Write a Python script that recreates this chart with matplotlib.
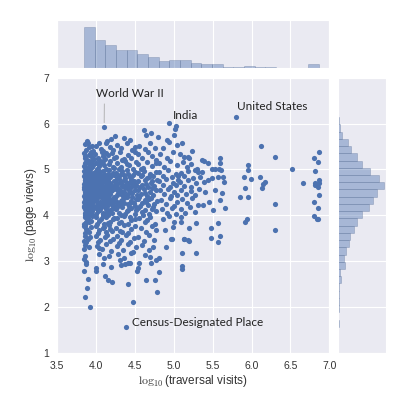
import matplotlib
matplotlib.use("Agg")
import matplotlib.pyplot as plt
import seaborn as sns
import numpy as np

# log10(traversal visits), log10(page views), by x band

# x 3.85-3.98
grp_a = [(3.89,5.62),
    (3.86,5.55),(3.92,5.48),(3.95,5.52),(3.88,5.43),(3.97,5.41),(3.90,5.58),
    (3.85,5.36),(3.91,5.31),(3.94,5.38),(3.87,5.24),(3.96,5.27),(3.89,5.21),(3.93,5.34),(3.86,5.29),(3.98,5.22),
    (3.88,5.17),(3.92,5.12),(3.85,5.08),(3.95,5.19),(3.90,5.03),(3.97,5.10),(3.87,5.14),(3.93,5.01),(3.86,5.05),(3.91,5.18),(3.96,5.06),
    (3.85,4.97),(3.89,4.92),(3.94,4.88),(3.87,4.84),(3.92,4.99),(3.96,4.81),(3.86,4.90),(3.90,4.85),(3.93,4.95),(3.98,4.93),
    (3.88,4.80),(3.91,4.87),(3.95,4.83),(3.85,4.86),(3.97,4.89),(3.89,4.96),(3.93,4.82),
    (3.86,4.78),(3.90,4.72),(3.94,4.76),(3.87,4.65),(3.92,4.61),(3.96,4.70),(3.85,4.68),(3.89,4.79),(3.93,4.63),(3.97,4.74),(3.88,4.71),
    (3.91,4.66),(3.95,4.62),(3.86,4.73),(3.90,4.60),(3.94,4.67),(3.98,4.64),(3.87,4.77),(3.92,4.69),(3.85,4.62),(3.96,4.75),(3.89,4.66),
    (3.85,4.58),(3.88,4.52),(3.92,4.55),(3.95,4.47),(3.87,4.43),(3.90,4.49),(3.94,4.59),(3.97,4.41),(3.86,4.46),(3.91,4.53),
    (3.93,4.44),(3.89,4.57),(3.96,4.50),(3.85,4.42),(3.88,4.60),(3.92,4.45),(3.98,4.54),(3.87,4.51),(3.90,4.40),(3.94,4.48),
    (3.86,4.38),(3.90,4.33),(3.93,4.36),(3.96,4.27),(3.88,4.22),(3.85,4.30),(3.92,4.25),(3.95,4.39),(3.87,4.34),
    (3.91,4.21),(3.94,4.29),(3.89,4.26),(3.97,4.32),(3.86,4.24),(3.92,4.37),(3.85,4.20),(3.90,4.28),(3.95,4.23),
    (3.85,4.18),(3.89,4.12),(3.93,4.15),(3.87,4.06),(3.91,4.02),(3.95,4.09),(3.86,4.14),(3.90,4.19),(3.94,4.04),(3.88,4.10),(3.92,4.07),(3.97,4.16),(3.86,4.01),
    (3.86,3.97),(3.89,3.91),(3.92,3.85),(3.85,3.82),(3.90,3.94),(3.94,3.88),(3.87,3.80),(3.96,3.98),(3.88,3.86),
    (3.85,3.77),(3.88,3.71),(3.91,3.64),(3.86,3.62),(3.94,3.75),(3.89,3.67),(3.87,3.79),
    (3.86,3.56),(3.90,3.49),(3.85,3.44),(3.93,3.53),(3.88,3.41),
    (3.87,3.36),(3.85,3.27),(3.91,3.31),(3.86,3.12),
    (3.85,3.04),(3.88,2.99),(3.88,2.94),(3.85,2.78),(3.90,2.62),(3.89,2.42),(3.87,2.21),(3.93,2.01)]

# x 3.98-4.25
grp_b = [(4.11,5.93),
    (4.20,5.67),(4.25,5.74),(4.15,5.62),
    (4.01,5.52),(4.07,5.45),(4.13,5.57),(4.18,5.49),(4.23,5.42),(4.04,5.58),(4.10,5.41),
    (3.99,5.33),(4.03,5.26),(4.08,5.38),(4.12,5.22),(4.16,5.31),(4.21,5.36),(4.05,5.21),(4.10,5.29),(4.24,5.24),(4.14,5.35),
    (4.00,5.15),(4.04,5.08),(4.09,5.19),(4.13,5.02),(4.17,5.12),(4.22,5.06),(4.02,5.01),(4.07,5.17),(4.11,5.10),(4.19,5.18),(4.24,5.04),(4.06,5.13),
    (3.99,4.94),(4.02,4.88),(4.05,4.97),(4.08,4.82),(4.11,4.91),(4.14,4.85),(4.17,4.99),(4.20,4.87),(4.23,4.93),(4.01,4.81),
    (4.04,4.92),(4.07,4.86),(4.10,4.96),(4.13,4.80),(4.16,4.90),(4.19,4.83),(4.03,4.98),(4.09,4.84),(4.24,4.89),
    (4.00,4.76),(4.03,4.69),(4.06,4.73),(4.09,4.62),(4.12,4.78),(4.15,4.66),(4.18,4.71),(4.21,4.64),(4.24,4.75),(4.01,4.61),(4.04,4.79),(4.07,4.67),
    (4.10,4.72),(4.13,4.63),(4.16,4.77),(4.19,4.68),(4.22,4.60),(3.99,4.70),(4.02,4.65),(4.05,4.74),(4.08,4.77),(4.11,4.60),(4.14,4.70),(4.25,4.66),
    (4.00,4.57),(4.03,4.51),(4.06,4.45),(4.09,4.58),(4.12,4.42),(4.15,4.53),(4.18,4.47),(4.21,4.56),(4.24,4.41),(4.01,4.48),(4.04,4.54),(4.07,4.59),
    (4.10,4.43),(4.13,4.50),(4.16,4.44),(4.20,4.52),(4.23,4.58),(3.99,4.46),(4.02,4.41),(4.05,4.55),(4.08,4.49),(4.11,4.53),(4.17,4.59),
    (3.99,4.35),(4.02,4.28),(4.05,4.22),(4.08,4.37),(4.11,4.31),(4.14,4.24),(4.17,4.38),(4.20,4.27),(4.23,4.33),(4.00,4.21),(4.03,4.39),(4.06,4.30),
    (4.09,4.25),(4.12,4.36),(4.15,4.20),(4.18,4.32),(4.21,4.23),(4.24,4.29),(4.01,4.33),(4.04,4.26),(4.10,4.22),(4.13,4.34),(4.16,4.27),
    (4.00,4.17),(4.03,4.09),(4.06,4.14),(4.09,4.03),(4.12,4.19),(4.15,4.08),(4.18,4.12),(4.21,4.05),(4.24,4.16),
    (4.01,4.02),(4.04,4.11),(4.07,4.18),(4.10,4.06),(4.13,4.13),(4.16,4.01),(4.19,4.09),(4.22,4.15),
    (4.00,3.96),(4.04,3.88),(4.07,3.93),(4.11,3.82),(4.14,3.97),(4.18,3.86),(4.22,3.91),(4.02,3.81),(4.09,3.99),(4.16,3.84),(4.24,3.95),
    (4.01,3.76),(4.05,3.68),(4.09,3.72),(4.13,3.63),(4.17,3.78),(4.21,3.66),(4.03,3.61),(4.11,3.74),(4.19,3.70),
    (4.00,3.55),(4.06,3.47),(4.12,3.52),(4.18,3.43),(4.03,3.41),(4.15,3.58),(4.23,3.49),
    (4.02,3.34),(4.08,3.26),(4.14,3.38),(4.20,3.22),(4.05,3.29),
    (4.04,3.16),(4.11,3.08),(4.17,3.12),
    (4.00,2.79),(4.01,2.85),(4.10,2.94),(4.12,2.67),(4.16,2.58),(4.20,2.87),(4.21,2.54)]

# x 4.25-4.53
grp_c = [(4.44,5.64),(4.36,5.68),
    (4.27,5.53),(4.33,5.46),(4.40,5.57),(4.47,5.42),(4.51,5.50),
    (4.26,5.28),(4.31,5.37),(4.37,5.23),(4.42,5.32),(4.46,5.26),(4.50,5.39),(4.34,5.21),
    (4.28,5.14),(4.32,5.05),(4.38,5.18),(4.43,5.09),(4.48,5.02),(4.52,5.16),(4.30,5.01),(4.40,5.11),
    (4.26,4.93),(4.30,4.86),(4.34,4.97),(4.38,4.82),(4.42,4.90),(4.46,4.84),(4.50,4.95),(4.28,4.81),(4.32,4.91),(4.36,4.88),(4.40,4.98),(4.44,4.83),(4.48,4.89),
    (4.25,4.75),(4.28,4.68),(4.31,4.72),(4.34,4.63),(4.37,4.77),(4.40,4.66),(4.43,4.71),(4.46,4.61),(4.49,4.74),(4.52,4.67),
    (4.27,4.62),(4.30,4.79),(4.33,4.70),(4.36,4.65),(4.39,4.73),(4.42,4.60),(4.45,4.76),(4.48,4.69),(4.51,4.64),
    (4.26,4.57),(4.29,4.49),(4.32,4.54),(4.35,4.43),(4.38,4.59),(4.41,4.47),(4.44,4.52),(4.47,4.41),(4.50,4.56),
    (4.53,4.45),(4.27,4.44),(4.30,4.58),(4.33,4.46),(4.36,4.51),(4.39,4.42),(4.43,4.55),(4.47,4.48),
    (4.25,4.37),(4.28,4.29),(4.31,4.23),(4.34,4.34),(4.37,4.27),(4.40,4.39),(4.43,4.21),(4.46,4.32),
    (4.49,4.26),(4.52,4.36),(4.27,4.22),(4.32,4.31),(4.36,4.38),(4.41,4.25),(4.45,4.30),(4.50,4.20),
    (4.26,4.13),(4.30,4.06),(4.34,4.18),(4.38,4.02),(4.42,4.11),(4.46,4.15),(4.50,4.04),(4.28,4.19),(4.33,4.01),(4.40,4.09),(4.44,4.17),(4.52,4.12),
    (4.27,3.94),(4.32,3.85),(4.37,3.98),(4.41,3.81),(4.46,3.89),(4.51,3.93),(4.30,3.83),(4.44,3.96),
    (4.26,3.73),(4.31,3.66),(4.36,3.78),(4.41,3.62),(4.46,3.70),(4.50,3.76),(4.34,3.64),
    (4.28,3.54),(4.33,3.46),(4.39,3.58),(4.44,3.42),(4.49,3.51),(4.30,3.40),
    (4.27,3.33),(4.35,3.25),(4.42,3.37),(4.48,3.21),(4.52,3.30),
    (4.29,3.15),(4.37,3.06),(4.45,3.18),(4.31,3.03),
    (4.33,2.92),(4.38,2.94),(4.42,2.96),(4.44,2.97),(4.39,1.57),(4.42,2.51),(4.48,2.11)]

# x 4.53-4.80
grp_d = [(4.62,5.86),(4.71,5.80),(4.65,5.75),(4.80,5.70),
    (4.56,5.52),(4.63,5.44),(4.70,5.57),(4.76,5.47),
    (4.54,5.34),(4.60,5.24),(4.67,5.38),(4.73,5.29),(4.78,5.21),
    (4.55,5.12),(4.61,5.04),(4.66,5.17),(4.72,5.08),(4.77,5.15),(4.58,5.01),
    (4.54,4.93),(4.58,4.85),(4.62,4.97),(4.66,4.81),(4.70,4.90),(4.74,4.86),(4.78,4.95),(4.60,4.89),(4.68,4.83),
    (4.55,4.74),(4.59,4.66),(4.63,4.78),(4.67,4.62),(4.71,4.71),(4.75,4.65),(4.79,4.77),(4.57,4.61),(4.65,4.69),(4.73,4.75),
    (4.54,4.55),(4.58,4.47),(4.62,4.58),(4.66,4.42),(4.70,4.51),(4.74,4.44),(4.78,4.56),(4.56,4.41),(4.64,4.49),(4.72,4.59),
    (4.55,4.36),(4.59,4.27),(4.63,4.33),(4.67,4.22),(4.71,4.38),(4.75,4.25),(4.79,4.31),(4.57,4.21),(4.65,4.29),(4.69,4.35),
    (4.54,4.16),(4.59,4.07),(4.64,4.12),(4.69,4.03),(4.74,4.18),(4.78,4.09),(4.61,4.01),(4.72,4.14),
    (4.56,3.94),(4.63,3.85),(4.70,3.97),(4.76,3.82),(4.66,3.90),
    (4.58,3.73),(4.65,3.64),(4.72,3.77),(4.78,3.68),
    (4.55,3.52),(4.62,3.44),(4.69,3.57),(4.75,3.47),
    (4.60,3.36),(4.68,3.24),(4.74,3.31),
    (4.64,3.14),(4.70,3.09),(4.78,3.03),
    (4.53,2.78),(4.55,2.86),(4.56,2.96),(4.65,2.58),(4.76,2.58),(4.79,2.33),(4.71,2.96)]

# x 4.80-5.07
grp_e = [(4.94,6.02),(5.02,5.89),(5.03,5.94),(5.00,5.75),(4.92,5.64),(4.94,5.60),
    (5.04,5.54),(4.86,5.46),(4.83,5.33),(4.91,5.25),(4.99,5.37),
    (4.82,5.13),(4.88,5.05),(4.96,5.18),(5.05,5.09),
    (4.81,4.94),(4.87,4.86),(4.93,4.98),(4.98,4.83),(5.03,4.91),(5.06,4.85),
    (4.82,4.74),(4.86,4.66),(4.90,4.79),(4.95,4.62),(4.99,4.71),(5.03,4.67),(5.06,4.76),
    (4.83,4.55),(4.88,4.47),(4.93,4.58),(4.97,4.42),(5.01,4.51),(5.05,4.44),
    (4.84,4.33),(4.90,4.25),(4.95,4.38),(5.00,4.21),(5.04,4.30),
    (4.85,4.14),(4.92,4.06),(4.98,4.17),(5.03,4.03),
    (4.87,3.92),(4.94,3.99),(5.00,3.86),(4.99,3.75),(4.89,3.67),
    (4.97,3.49),(4.98,3.48),(4.90,3.30),(4.82,3.07),(4.81,2.77)]

# x 5.07-5.35
grp_f = [(5.11,5.58),(5.24,5.41),
    (5.08,5.33),(5.14,5.28),(5.20,5.25),(5.19,5.28),
    (5.12,5.16),(5.17,5.06),(5.23,5.12),(5.30,5.02),
    (5.09,4.93),(5.14,4.86),(5.19,4.97),(5.25,4.82),(5.27,4.99),(5.32,4.95),
    (5.08,4.73),(5.13,4.65),(5.18,4.78),(5.23,4.62),(5.29,4.70),(5.34,4.84),
    (5.10,4.56),(5.16,4.47),(5.22,4.53),(5.28,4.44),(5.33,4.58),
    (5.11,4.35),(5.17,4.27),(5.24,4.38),(5.31,4.22),
    (5.09,4.13),(5.15,4.05),(5.21,4.18),(5.28,4.08),
    (5.09,3.96),(5.09,3.86),(5.29,3.83),(5.20,3.72),
    (5.13,3.49),(5.19,3.46),(5.14,3.48),(5.20,3.43),
    (5.11,3.19),(5.29,3.17),(5.11,2.90),(5.11,2.84)]

# x 5.35-5.63
grp_g = [(5.36,5.20),(5.39,5.19),(5.44,5.13),(5.49,5.02),(5.53,5.02),(5.59,5.15),(5.59,5.25),
    (5.58,5.02),(5.61,4.99),(5.57,4.84),(5.44,4.77),(5.49,4.81),(5.39,4.73),(5.41,4.51),
    (5.53,4.55),(5.62,4.48),(5.60,4.33),(5.46,4.30),(5.38,4.22),(5.50,4.12),(5.57,3.84),
    (5.48,3.73),(5.48,3.50),(5.60,3.55),(5.57,3.41),(5.36,4.95)]

# x > 5.63
grp_h = [(5.64,4.84),(5.65,4.73),(5.66,4.15),(5.80,6.14),(5.85,4.39),
    (5.95,5.09),(5.95,4.99),(5.91,4.84),(5.99,4.80),(5.92,4.60),(5.95,4.41),(5.94,3.93),(5.92,3.86),
    (6.12,5.51),(6.11,4.84),(6.17,4.73),(6.15,4.68),(6.14,4.59),
    (6.30,5.28),(6.30,4.24),(6.30,3.67),(6.52,5.00),(6.66,4.71),
    (6.86,5.38),(6.80,5.25),(6.85,5.17),(6.81,4.96),(6.86,4.77),(6.81,4.71),(6.86,4.70),
    (6.82,4.66),(6.85,4.62),(6.86,4.45),(6.80,4.30),(6.85,4.15),(6.80,3.99),(6.84,3.93),(6.85,3.91)]

# labelled articles: name, (x, y) of its point, text position
labels = ["World War II", "India", "United States", "Census-Designated Place"]
label_pts = [(4.11, 5.93), (4.94, 6.02), (5.80, 6.14), (4.39, 1.57)]
label_txt = [(4.00, 6.65), (4.99, 6.18), (5.82, 6.38), (4.47, 1.67)]

pts = np.array(grp_a + grp_b + grp_c + grp_d + grp_e + grp_f + grp_g + grp_h)
x = pts[:, 0]
y = pts[:, 1]

sns.set_style("darkgrid")
plt.rcParams['font.family'] = ['Liberation Sans', 'DejaVu Sans']
plt.rcParams['mathtext.fontset'] = 'cm'

blue = "#4c72b0"
fig = plt.figure(figsize=(4.16, 3.99), dpi=100)
ax = fig.add_axes([0.136, 0.1153, 0.656, 0.690])
ax_top = fig.add_axes([0.136, 0.8296, 0.656, 0.120], sharex=ax)
ax_right = fig.add_axes([0.8125, 0.1153, 0.1154, 0.690], sharey=ax)

ax.scatter(x, y, s=14, color=blue, linewidths=0, zorder=3)
ax.set_xlim(3.5, 7.0)
ax.set_ylim(1, 7)
ax.set_xticks(np.arange(3.5, 7.01, 0.5))
ax.set_yticks(np.arange(1, 8, 1))
ax.tick_params(labelsize=7.5, colors='#333333', pad=2)
ax.set_xlabel(r'$\log_{10}$(traversal visits)', fontsize=8.5, color='#333333', labelpad=2)
ax.set_ylabel(r'$\log_{10}$(page views)', fontsize=8.5, color='#333333', labelpad=3)

cnt_x, _, _ = ax_top.hist(x, bins=22, color=blue, alpha=0.42, edgecolor='#5a6f95', linewidth=0.5)
ax_top.set_ylim(0, cnt_x.max() * 1.17)
ax_top.set_yticks([])
ax_top.tick_params(labelbottom=False, length=0)

cnt_y, _, _ = ax_right.hist(y, bins=29, orientation='horizontal', color=blue, alpha=0.42,
                            edgecolor='#5a6f95', linewidth=0.5)
ax_right.set_xlim(0, cnt_y.max() * 1.04)
ax_right.set_xticks([])
ax_right.tick_params(labelleft=False, length=0)

for name, p, t in zip(labels, label_pts, label_txt):
    if name == "World War II":
        ax.annotate(name, xy=p, xytext=t, fontsize=8.5, family=['Lato', 'DejaVu Sans'],
                    color='#222222', va='center', ha='left',
                    arrowprops=dict(arrowstyle='-', color='#aaaaaa', lw=0.6,
                                    relpos=(0.13, 0), shrinkA=1, shrinkB=3))
    else:
        ax.text(t[0], t[1], name, fontsize=8.5, family=['Lato', 'DejaVu Sans'],
                color='#222222', va='center', ha='left')

fig.savefig("out.png", dpi=100)
